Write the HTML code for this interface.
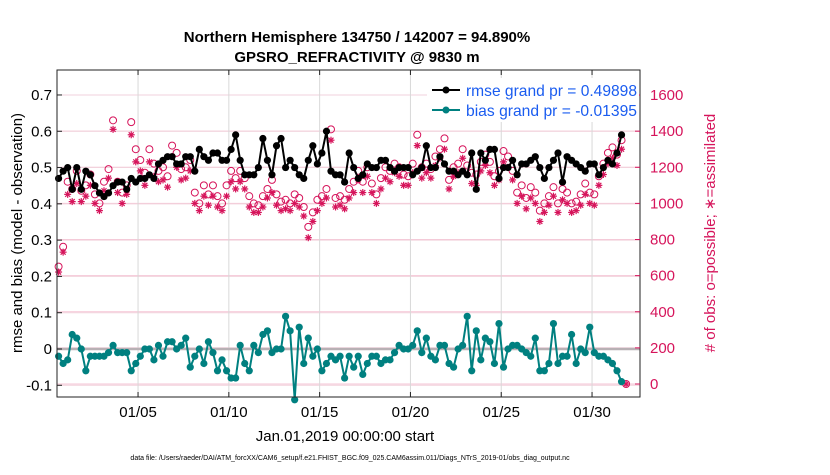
<!DOCTYPE html>
<html><head><meta charset="utf-8"><style>
body{margin:0;background:#fff;}
svg{font-family:"Liberation Sans",sans-serif;}
</style></head><body>
<svg id="chart" width="830" height="470">
<text x="357" y="42" text-anchor="middle" font-size="15" font-weight="bold">Northern Hemisphere 134750 / 142007 = 94.890%</text>
<text x="357" y="62" text-anchor="middle" font-size="15" font-weight="bold">GPSRO_REFRACTIVITY @ 9830 m</text>
<g id="grid"></g>
<g id="marks"></g>
<rect x="57" y="70" width="583" height="327" fill="none" stroke="#222" stroke-width="1"/>
<g id="axes"></g>
<g>
<rect x="427" y="78" width="212" height="44" fill="#fff" stroke="none"/>
<line x1="432" y1="90" x2="460" y2="90" stroke="#000" stroke-width="2"/><circle cx="446" cy="90" r="3.5" fill="#000"/>
<text x="466" y="96" font-size="16" fill="#1a5cf0" textLength="171" lengthAdjust="spacingAndGlyphs">rmse grand pr = 0.49898</text>
<line x1="432" y1="110" x2="460" y2="110" stroke="#008080" stroke-width="2"/><circle cx="446" cy="110" r="3.5" fill="#008080"/>
<text x="466" y="116" font-size="16" fill="#1a5cf0" textLength="171" lengthAdjust="spacingAndGlyphs">bias grand pr = -0.01395</text>
</g>
<text transform="translate(22,233) rotate(-90)" text-anchor="middle" font-size="15">rmse and bias (model - observation)</text>
<text transform="translate(715,233) rotate(-90)" text-anchor="middle" font-size="15" fill="#d6145b"># of obs: o=possible; ∗=assimilated</text>
<text x="345" y="441" text-anchor="middle" font-size="15">Jan.01,2019 00:00:00 start</text>
<text x="350" y="460" text-anchor="middle" font-size="7">data file: /Users/raeder/DAI/ATM_forcXX/CAM6_setup/f.e21.FHIST_BGC.f09_025.CAM6assim.011/Diags_NTrS_2019-01/obs_diag_output.nc</text>
</svg>
<script>
const rmse=[0.47,0.49,0.50,0.44,0.50,0.44,0.49,0.48,0.45,0.43,
0.42,0.43,0.45,0.46,0.46,0.44,0.47,0.46,0.47,0.47,
0.48,0.47,0.51,0.52,0.53,0.53,0.51,0.51,0.53,0.53,
0.49,0.55,0.53,0.52,0.54,0.54,0.52,0.52,0.55,0.59,
0.52,0.48,0.48,0.48,0.50,0.58,0.52,0.48,0.56,0.58,
0.50,0.52,0.50,0.48,0.47,0.52,0.56,0.51,0.54,0.60,
0.49,0.48,0.48,0.46,0.54,0.50,0.47,0.48,0.51,0.50,
0.50,0.52,0.52,0.50,0.49,0.50,0.50,0.50,0.48,0.49,
0.50,0.56,0.50,0.50,0.53,0.51,0.49,0.49,0.48,0.49,
0.48,0.54,0.44,0.54,0.52,0.55,0.55,0.47,0.50,0.50,
0.52,0.48,0.51,0.51,0.52,0.53,0.50,0.47,0.50,0.52,
0.54,0.46,0.53,0.52,0.51,0.50,0.49,0.51,0.51,0.48,
0.50,0.52,0.51,0.54,0.59];
const bias=[-0.02,-0.04,-0.03,0.04,0.03,0.00,-0.06,-0.02,-0.02,-0.02,
-0.02,-0.01,0.01,-0.01,-0.01,-0.01,-0.06,-0.04,-0.02,0.00,
0.00,-0.03,0.01,-0.02,0.02,0.02,0.00,0.01,0.03,-0.05,
-0.02,0.00,-0.04,0.02,-0.01,-0.06,-0.03,-0.06,-0.08,-0.08,
0.01,-0.04,-0.06,0.01,-0.01,0.04,0.05,-0.01,0.00,0.00,
0.09,0.05,-0.14,0.06,-0.04,0.03,-0.02,0.00,-0.06,-0.04,
-0.02,-0.03,-0.02,-0.08,-0.02,-0.05,-0.02,-0.07,-0.04,-0.02,
-0.02,-0.04,-0.03,-0.03,-0.01,0.01,0.00,0.00,0.01,0.05,
-0.01,0.03,-0.02,-0.03,0.01,0.01,-0.04,-0.05,0.00,0.01,
0.09,-0.06,0.05,-0.03,0.03,0.02,-0.04,0.07,-0.05,0.00,
0.01,0.01,0.00,-0.01,-0.02,0.03,-0.06,-0.06,-0.04,0.07,
-0.04,-0.02,-0.02,0.04,-0.04,0.00,-0.01,0.06,-0.01,-0.02,
-0.02,-0.03,-0.04,-0.06,-0.09];
const possible=[650,760,1120,1080,1180,1070,1100,1160,1050,1000,
1120,1190,1460,1120,1060,1100,1450,1300,1240,1170,
1300,1220,1180,1200,1150,1320,1280,1190,1200,1240,
1060,1000,1100,1050,1100,1040,1000,1100,1180,1140,
1180,1140,1040,1000,990,1040,1080,1130,1050,1010,
1020,1000,1050,1030,980,870,950,1020,1040,1080,
1410,1030,1040,1020,1080,1120,1180,1120,1200,1110,
1050,1140,1200,1180,1220,1200,1160,1150,1220,1380,
1200,1220,1190,1260,1300,1360,1130,1200,1220,1300,
1210,1170,1160,1230,1270,1230,1150,1180,1290,1260,
1180,1060,1100,1030,1090,1060,960,1000,1040,1090,
1000,1080,1060,1000,1010,1050,1110,1060,1050,1150,
1220,1280,1310,1270,1350,0];
const assimilated=[620,730,1050,1010,1110,1010,1040,1100,1000,960,
1070,1140,1410,1060,1000,1050,1380,1230,1180,1100,
1230,1150,1120,1130,1090,1260,1200,1130,1140,1180,
1000,960,1040,990,1040,980,960,1040,1120,1080,
1120,1080,980,950,950,980,1030,1060,990,960,
970,960,1000,980,930,810,900,960,1000,1030,
1350,980,990,970,1030,1060,1130,1060,1150,1060,
1000,1080,1140,1120,1170,1150,1100,1100,1170,1320,
1140,1170,1140,1210,1250,1300,1080,1150,1170,1250,
1160,1110,1100,1180,1210,1170,1100,1130,1230,1200,
1130,1000,1040,970,1030,1000,900,950,990,1040,
950,1020,1000,950,960,990,1050,1000,990,1100,
1160,1220,1250,1210,1300,0];
const xTickLabels=["01/05","01/10","01/15","01/20","01/25","01/30"];
const xTickDays=[4,9,14,19,24,29];
const leftTicks=[-0.1,0,0.1,0.2,0.3,0.4,0.5,0.6,0.7];
const rightTicks=[0,200,400,600,800,1000,1200,1400,1600];

const NS="http://www.w3.org/2000/svg";
const X0=57,X1=640,Y0=70,Y1=397;
const xDay=d=>65.4+18.16*d;
const tOf=i=>-0.375+0.25*i;
const yL=v=>349-362.9*v;
const yR=v=>384-0.1806*v;
const grid=document.getElementById('grid'),marks=document.getElementById('marks'),axes=document.getElementById('axes');
function mk(tag,attrs,parent){const e=document.createElementNS(NS,tag);for(const k in attrs)e.setAttribute(k,attrs[k]);parent.appendChild(e);return e;}

rightTicks.forEach(v=>{
  const y=yR(v);
  const l=mk('line',{x1:X0,x2:X1,y1:y,y2:y,stroke:'#f5c6d6','stroke-width':1},grid);
  
  
  mk('line',{x1:X1-5,x2:X1,y1:y,y2:y,stroke:'#d6145b'},axes);
  const t=mk('text',{x:X1+10,y:y+5,'font-size':15,fill:'#d6145b'},axes);t.textContent=v;
  
  
});
leftTicks.forEach(v=>{
  const y=yL(v);
  const l=mk('line',{x1:X0,x2:X1,y1:y,y2:y,stroke:'#f2d2dc','stroke-width':1},grid);
  
  
  mk('line',{x1:X0,x2:X0+5,y1:y,y2:y,stroke:'#222'},axes);
  const t=mk('text',{x:X0-5,y:y+5,'font-size':15,'text-anchor':'end'},axes);t.textContent=(v===0?'0':v.toFixed(1));
  
  
});
xTickDays.forEach((d,i)=>{
  const x=xDay(d);
  const l=mk('line',{x1:x,x2:x,y1:Y0,y2:Y1,stroke:'#d8d8d8'},grid);
  
  
  mk('line',{x1:x,x2:x,y1:Y1-5,y2:Y1,stroke:'#222'},axes);
  mk('line',{x1:x,x2:x,y1:Y0,y2:Y0+5,stroke:'#222'},axes);
  const t=mk('text',{x:x,y:417,'font-size':15,'text-anchor':'middle'},axes);t.textContent=xTickLabels[i];
  
  
});
const z=mk('line',{x1:X0,x2:X1,y1:yL(0),y2:yL(0),stroke:'#b8b0b4','stroke-width':2.5},grid);



possible.forEach((v,i)=>{
  const x=xDay(tOf(i)),y=yR(v);
  const c=mk('circle',{cx:x,cy:y,r:3.5,fill:'none',stroke:'#d6145b','stroke-width':1},marks);
  
  
});
assimilated.forEach((v,i)=>{
  const x=xDay(tOf(i)),y=yR(v),r=3.5;
  const g=mk('g',{stroke:'#d6145b','stroke-width':1.2},marks);
  
  
  mk('line',{x1:x-r,x2:x+r,y1:y,y2:y},g);
  mk('line',{x1:x,x2:x,y1:y-r,y2:y+r},g);
  mk('line',{x1:x-2.5,x2:x+2.5,y1:y-2.5,y2:y+2.5},g);
  mk('line',{x1:x-2.5,x2:x+2.5,y1:y+2.5,y2:y-2.5},g);
});
function series(arr,color,name){
  const pts=arr.map((v,i)=>xDay(tOf(i)).toFixed(1)+','+yL(v).toFixed(1)).join(' ');
  const p=mk('polyline',{points:pts,fill:'none',stroke:color,'stroke-width':2},marks);
  
  
  arr.forEach((v,i)=>{
    const c=mk('circle',{cx:xDay(tOf(i)),cy:yL(v),r:3.6,fill:color},marks);
    
    
  });
}
series(bias,'#008080','bias');
series(rmse,'#000000','rmse');
</script>
</body></html>
